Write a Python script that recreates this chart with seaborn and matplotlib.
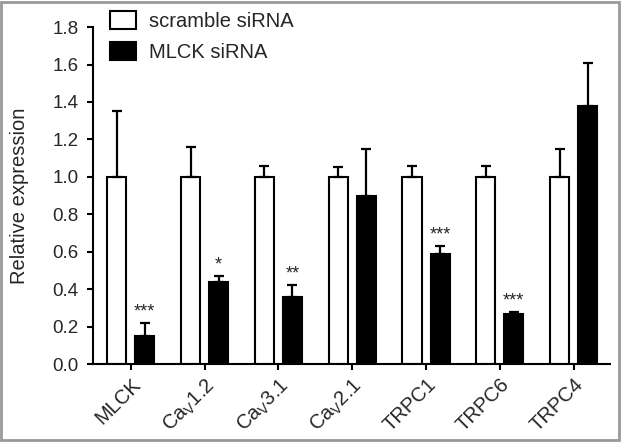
import pandas as pd
import seaborn as sns
import matplotlib.pyplot as plt
from matplotlib.patches import Rectangle

# values
genes = ['MLCK', r'Ca$_\mathrm{V}$1.2', r'Ca$_\mathrm{V}$3.1', r'Ca$_\mathrm{V}$2.1',
         'TRPC1', 'TRPC6', 'TRPC4']
groups = ['scramble siRNA', 'MLCK siRNA']
scramble = [1.0, 1.0, 1.0, 1.0, 1.0, 1.0, 1.0]
scramble_err = [0.35, 0.16, 0.06, 0.05, 0.06, 0.06, 0.15]
mlck = [0.15, 0.44, 0.36, 0.90, 0.59, 0.27, 1.38]
mlck_err = [0.07, 0.03, 0.06, 0.25, 0.04, 0.01, 0.23]
stars = ['***', '*', '**', '', '***', '***', '']

sns.set_style('ticks')
plt.rcParams['font.family'] = ['Liberation Sans', 'DejaVu Sans']
plt.rcParams['mathtext.fontset'] = 'custom'
plt.rcParams['mathtext.rm'] = 'Liberation Sans'
plt.rcParams['mathtext.it'] = 'Liberation Sans:italic'

df = pd.DataFrame({
    'gene': genes * 2,
    'group': [groups[0]] * len(genes) + [groups[1]] * len(genes),
    'value': scramble + mlck,
})

fig = plt.figure(figsize=(6.21, 4.44), dpi=100)
ax = fig.add_axes([0.150, 0.180, 0.832, 0.759])

sns.barplot(data=df, x='gene', y='value', hue='group', hue_order=groups,
            palette={groups[0]: 'white', groups[1]: 'black'},
            edgecolor='black', linewidth=1.5, width=0.76, gap=0.32,
            errorbar=None, ax=ax)

# upper-only error bars
for cont, errs in zip(ax.containers, [scramble_err, mlck_err]):
    for bar, e in zip(cont, errs):
        x = bar.get_x() + bar.get_width() / 2
        ax.errorbar(x, bar.get_height(), yerr=[[0], [e]], fmt='none',
                    ecolor='black', elinewidth=1.6, capsize=3.6, capthick=1.6,
                    zorder=1)

# significance marks over the MLCK siRNA bars
for bar, e, s in zip(ax.containers[1], mlck_err, stars):
    if s:
        ax.text(bar.get_x() + bar.get_width() / 2, bar.get_height() + e + 0.035, s,
                ha='center', va='baseline', fontsize=13)

ax.set_xlim(-0.51, 6.49)
ax.set_ylim(0, 1.8)
ax.set_yticks([0.0, 0.2, 0.4, 0.6, 0.8, 1.0, 1.2, 1.4, 1.6, 1.8])
ax.set_yticklabels(['%.1f' % v for v in ax.get_yticks()], fontsize=13.5)
ax.set_xticks(range(len(genes)))
ax.set_xticklabels(genes, rotation=45, ha='right', rotation_mode='anchor', fontsize=14.5)
ax.set_xlabel('')
ax.set_ylabel('Relative expression', fontsize=14.5, labelpad=17)
ax.tick_params(width=1.5, length=4.5, color='black')
ax.tick_params(axis='y', pad=6)
for sp in ['left', 'bottom']:
    ax.spines[sp].set_linewidth(1.5)
    ax.spines[sp].set_color('black')
sns.despine(ax=ax)

handles, labels = ax.get_legend_handles_labels()
ax.legend(handles, labels, loc='upper left', bbox_to_anchor=(110 / 621, 1 - 11 / 444),
          bbox_transform=fig.transFigure, frameon=False, fontsize=14.5,
          handlelength=1.3, handleheight=0.98, handletextpad=0.62,
          labelspacing=0.57, borderpad=0, borderaxespad=0)

fig.patches.append(Rectangle((0.0024, 0.009), 0.9936, 0.9876, transform=fig.transFigure,
                             fill=False, edgecolor='#999999', linewidth=2))

fig.savefig('out.png', dpi=100)
